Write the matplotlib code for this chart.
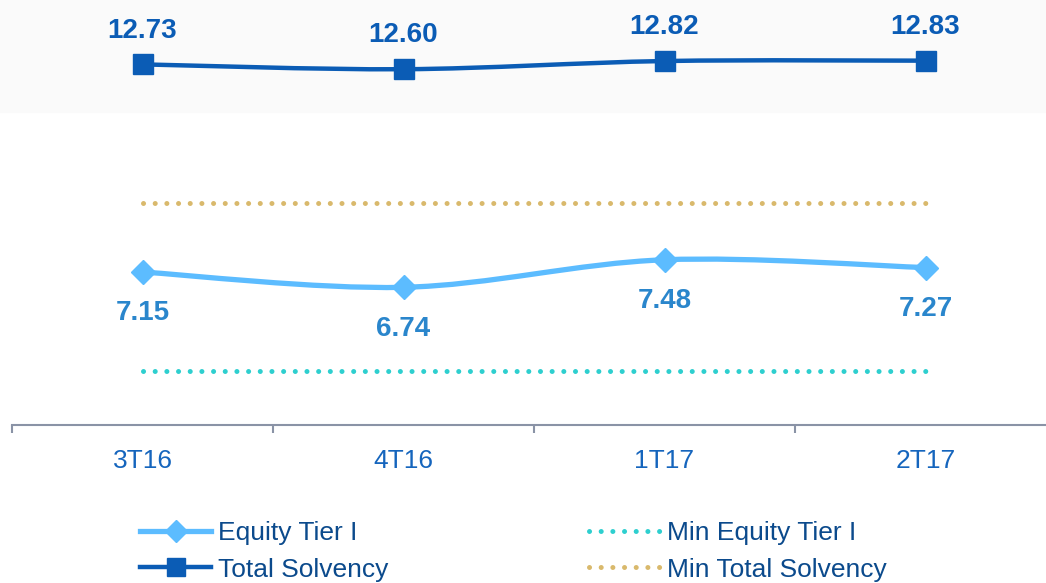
import matplotlib
matplotlib.use("Agg")
import matplotlib.pyplot as plt
from matplotlib.path import Path
from matplotlib.patches import PathPatch, Rectangle
from matplotlib.lines import Line2D

plt.rcParams['font.family'] = ['Liberation Sans', 'DejaVu Sans']

periods = ["3T16", "4T16", "1T17", "2T17"]
equity_tier = [7.15, 6.74, 7.48, 7.27]
total_solvency = [12.73, 12.60, 12.82, 12.83]
min_equity_tier = [4.5, 4.5, 4.5, 4.5]
min_total_solvency = [9.0, 9.0, 9.0, 9.0]

c_total = "#0b5cb5"
c_equity = "#5cbcff"
c_equity_lbl = "#2a86cc"
c_min_eq = "#2ecfcf"
c_min_tot = "#d9b96c"
c_axis = "#8a93a6"


def smooth_path(xs, ys):
    # excel-like smoothed line through the points
    n = len(xs)
    verts = [(xs[0], ys[0])]
    codes = [Path.MOVETO]
    for i in range(n - 1):
        x0, y0 = xs[max(i - 1, 0)], ys[max(i - 1, 0)]
        x1, y1 = xs[i], ys[i]
        x2, y2 = xs[i + 1], ys[i + 1]
        x3, y3 = xs[min(i + 2, n - 1)], ys[min(i + 2, n - 1)]
        verts += [(x1 + (x2 - x0) / 6, y1 + (y2 - y0) / 6),
                  (x2 - (x3 - x1) / 6, y2 - (y3 - y1) / 6),
                  (x2, y2)]
        codes += [Path.CURVE4] * 3
    return Path(verts, codes)


fig = plt.figure(figsize=(10.46, 5.83), dpi=100)
# faint grey band at the top
fig.patches.append(Rectangle((0, 1 - 112 / 583), 1, 112 / 583, transform=fig.transFigure,
                             color="#fafafa", zorder=-5))

ax = fig.add_axes([12 / 1046, (583 - 425) / 583, 1044 / 1046, 425 / 583])
ax.patch.set_alpha(0)
x = list(range(len(periods)))

dots = (0, (0.01, 2.325))
ax.plot(x, min_equity_tier, color=c_min_eq, lw=3.6, linestyle=dots, dash_capstyle='round')
ax.plot(x, min_total_solvency, color=c_min_tot, lw=3.6, linestyle=dots, dash_capstyle='round')

ax.add_patch(PathPatch(smooth_path(x, equity_tier), fill=False, edgecolor=c_equity, lw=3.8))
ax.plot(x, equity_tier, linestyle='none', marker='D', ms=12, color=c_equity)
ax.add_patch(PathPatch(smooth_path(x, total_solvency), fill=False, edgecolor=c_total, lw=3.2))
ax.plot(x, total_solvency, linestyle='none', marker='s', ms=14, color=c_total)

for xi, v in zip(x, total_solvency):
    ax.annotate(f"{v:.2f}", (xi, v), xytext=(0, 24.3), textcoords='offset points',
                ha='center', va='center', fontsize=20, fontweight='bold', color=c_total)
for xi, v in zip(x, equity_tier):
    ax.annotate(f"{v:.2f}", (xi, v), xytext=(0, -29.7), textcoords='offset points',
                ha='center', va='center', fontsize=20, fontweight='bold', color=c_equity_lbl)

ax.set_xlim(-0.5, 3.5)
ax.set_ylim(3.04, 14.46)
ax.set_yticks([])
for s in ['left', 'right', 'top']:
    ax.spines[s].set_visible(False)
ax.spines['bottom'].set_color(c_axis)
ax.spines['bottom'].set_linewidth(1.5)
ax.set_xticks(x)
ax.set_xticklabels(periods, fontsize=19, color="#1565bd")
ax.tick_params(axis='x', which='major', length=0, pad=17)
ax.set_xticks([-0.5, 0.5, 1.5, 2.5, 3.5], minor=True)
ax.tick_params(axis='x', which='minor', length=6, width=1.5, color=c_axis)

handles = [
    Line2D([], [], color=c_equity, lw=3.8, marker='D', ms=11),
    Line2D([], [], color=c_total, lw=3.2, marker='s', ms=13),
    Line2D([], [], color=c_min_eq, lw=3.6, linestyle=dots, dash_capstyle='round'),
    Line2D([], [], color=c_min_tot, lw=3.6, linestyle=dots, dash_capstyle='round'),
]
labels = ["Equity Tier I", "Total Solvency", "Min Equity Tier I", "Min Total Solvency"]
leg = fig.legend(handles, labels, ncol=2, loc='upper left',
                 bbox_to_anchor=(140 / 1046, 1 - 521 / 583), frameon=False,
                 fontsize=19, handlelength=2.7, handletextpad=0.25, columnspacing=7.6,
                 labelspacing=0.48, borderpad=0, borderaxespad=0, numpoints=1)
for t in leg.get_texts():
    t.set_color("#0b4a8c")

fig.savefig("out.png", dpi=100)
